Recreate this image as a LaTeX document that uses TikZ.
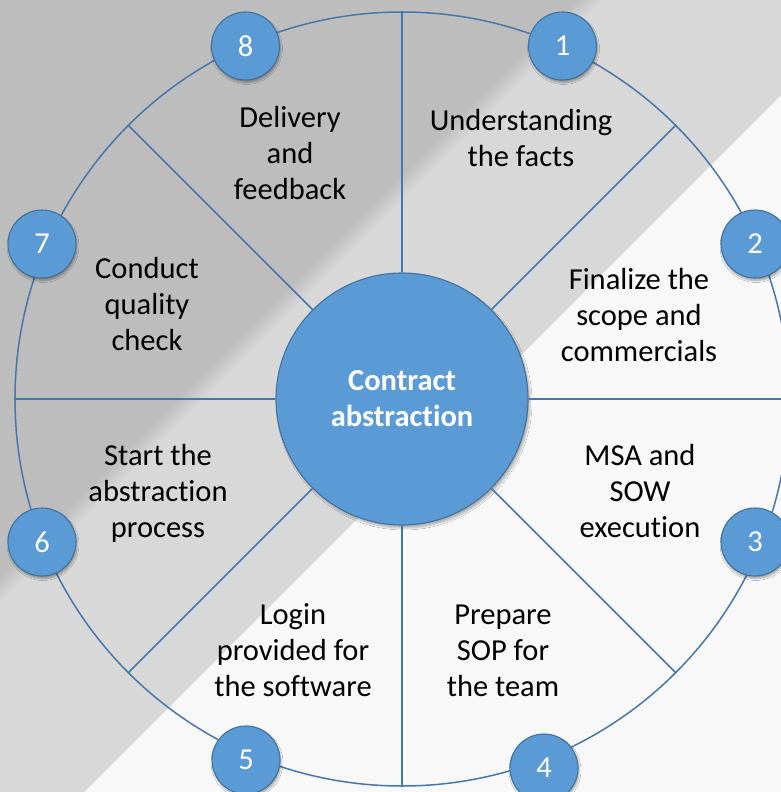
\documentclass[tikz,border=0pt]{standalone}
\usepackage{fontspec}
\setmainfont{Carlito}[Ligatures={TeX,NoCommon}]
\usetikzlibrary{shadows.blur}

\definecolor{bgdark}{RGB}{189,189,189}
\definecolor{bgmid}{RGB}{216,216,216}
\definecolor{bglight}{RGB}{248,248,248}
\definecolor{nodeblue}{RGB}{91,155,213}
\definecolor{edgeblue}{RGB}{65,113,156}
\definecolor{spokeblue}{RGB}{72,118,168}

\begin{document}
\begin{tikzpicture}[x=1pt,y=-1pt,
  label/.style={font=\fontsize{30.5}{36}\selectfont, align=center, anchor=base, text=black, inner sep=0pt},
  badge/.style={circle, minimum size=68pt, inner sep=0pt, fill=nodeblue, draw=edgeblue,
    line width=1.1pt, text=white, font=\fontsize{30.5}{36}\selectfont,
    blur shadow={shadow xshift=1pt, shadow yshift=-2.5pt, shadow blur steps=6, shadow opacity=35}},
  hub/.style={circle, minimum size=252pt, inner sep=0pt, fill=nodeblue, draw=edgeblue,
    line width=1.1pt, text=white, font=\fontsize{30.5}{36}\selectfont\bfseries, align=center,
    blur shadow={shadow xshift=2pt, shadow yshift=-3pt, shadow blur steps=8, shadow opacity=30}},
  rim/.style={circle, minimum size=774pt, inner sep=0pt, draw=spokeblue, line width=1.5pt},
  spoke/.style={draw=spokeblue, line width=1.5pt}
]
% background bands
\useasboundingbox (0,0) rectangle (781,792);
\fill[bglight] (0,0) rectangle (781,792);
\fill[bgmid] (0,0) -- (781,0) -- (781,95) -- (84,792) -- (0,792) -- cycle;
\fill[bgdark] (0,0) -- (578,0) -- (0,578) -- cycle;
\foreach \i in {0,...,11}{
  \pgfmathsetmacro\p{100-\i*8.3}
  \pgfmathsetmacro\sa{578+2*\i}
  \pgfmathsetmacro\sb{580+2*\i}
  \fill[bgdark!\p!bgmid] (\sa,0) -- (\sb,0) -- (0,\sb) -- (0,\sa) -- cycle;
}

% outer ring and hub
\node[rim] (ring) at (402,399) {};
\node[hub] (core) at (402,399) {Contract\\abstraction};
\foreach \a in {0,45,...,315}
  \draw[spoke] (core.\a) -- (ring.\a);

% numbered badges
\node[badge] (n1) at (562.5,46) {1};
\node[badge] (n2) at (755,244) {2};
\node[badge] (n3) at (755,542) {3};
\node[badge] (n4) at (544,768) {4};
\node[badge] (n5) at (246,760) {5};
\node[badge] (n6) at (42,542) {6};
\node[badge] (n7) at (42,244) {7};
\node[badge] (n8) at (245.5,46) {8};

% step labels (positioned by the baseline of their last line)
\node[label] (t1) at (521,166) {Understanding\\the facts};
\node[label] (t2) at (639,361) {Finalize the\\scope and\\commercials};
\node[label] (t3) at (640,537) {MSA and\\SOW\\execution};
\node[label] (t4) at (503,696) {Prepare\\SOP for\\the team};
\node[label] (t5) at (293,696) {Login\\provided for\\the software};
\node[label] (t6) at (158,537) {Start the\\abstraction\\process};
\node[label] (t7) at (147,350) {Conduct\\quality\\check};
\node[label] (t8) at (290,199) {Delivery\\and\\feedback};
\end{tikzpicture}
\end{document}
